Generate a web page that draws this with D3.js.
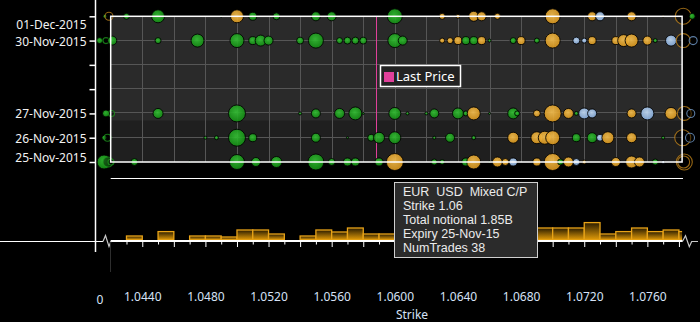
<!DOCTYPE html>
<html><head><meta charset="utf-8">
<script src="https://cdn.jsdelivr.net/npm/d3@7"></script>
<style>
html,body{margin:0;padding:0;background:#000;}
svg{display:block;font-family:"Noto Sans",sans-serif;}
</style></head><body>
<svg id="c" width="700" height="322"></svg>
<script>
// ---------- DATA ----------
const rowDates = ["2015-11-25","2015-11-26","2015-11-27","2015-11-28","2015-11-29","2015-11-30","2015-12-01"];
const labelDates = ["2015-11-25","2015-11-26","2015-11-27","2015-11-30","2015-12-01"];
const strikeTicks = [1.044,1.048,1.052,1.056,1.060,1.064,1.068,1.072,1.076];
const lastPrice = 1.0588;
const shadeFrom = "2015-11-26T17:00";

// bubbles: [strike, total notional (M), kind]  g=call, o=mixed C/P, b=put, r*=edge ring
const bub25 = [[1.04158,1250,"g"],[1.04183,640,"rg"],[1.04202,230,"rg"],[1.0435,310,"g"],[1.047,25,"g"],[1.050,1440,"g"],[1.0512,520,"g"],[1.0525,770,"g"],[1.055,1640,"g"],[1.056,310,"g"],[1.057,410,"g"],[1.0575,410,"g"],[1.059,410,"g"],[1.060,1850,"o"],[1.061,25,"g"],[1.0625,230,"g"],[1.063,160,"g"],[1.0645,410,"g"],[1.065,1250,"o"],[1.066,25,"g"],[1.0665,640,"o"],[1.067,310,"o"],[1.0675,410,"b"],[1.069,410,"o"],[1.070,1850,"o"],[1.0705,230,"g"],[1.071,640,"o"],[1.0715,310,"b"],[1.072,100,"o"],[1.074,520,"o"],[1.075,920,"o"],[1.0755,640,"o"],[1.0765,230,"g"],[1.077,60,"b"],[1.07834,1640,"ro"],[1.0783,920,"ro"]];
const bub26 = [[1.0416,160,"g"],[1.0418,310,"rg"],[1.048,60,"g"],[1.0487,100,"g"],[1.050,1850,"g"],[1.051,410,"g"],[1.055,520,"g"],[1.057,25,"g"],[1.0585,310,"g"],[1.059,770,"g"],[1.060,920,"g"],[1.0625,60,"g"],[1.0635,520,"g"],[1.065,100,"g"],[1.0675,770,"o"],[1.069,920,"o"],[1.0695,1080,"o"],[1.070,1250,"o"],[1.0715,410,"g"],[1.0725,640,"g"],[1.073,310,"b"],[1.0735,920,"o"],[1.075,640,"o"],[1.077,60,"g"],[1.07824,1640,"ro"],[1.0787,520,"rb"]];
const bub27 = [[1.0417,310,"g"],[1.04205,230,"rg"],[1.045,640,"g"],[1.050,1850,"g"],[1.054,60,"g"],[1.055,520,"g"],[1.0565,640,"g"],[1.0575,1080,"g"],[1.058,25,"g"],[1.060,920,"g"],[1.0608,60,"g"],[1.062,60,"g"],[1.0625,520,"g"],[1.064,770,"g"],[1.0645,160,"g"],[1.065,1080,"o"],[1.066,25,"g"],[1.0675,770,"g"],[1.06775,160,"g"],[1.069,310,"o"],[1.070,1850,"o"],[1.071,640,"o"],[1.0715,100,"g"],[1.072,770,"b"],[1.0725,520,"b"],[1.075,520,"o"],[1.076,1080,"b"],[1.0775,920,"o"],[1.07834,1250,"ro"],[1.07875,410,"rb"]];
const bub30 = [[1.0413,230,"g"],[1.0417,230,"rg"],[1.0421,520,"g"],[1.045,230,"g"],[1.0475,1080,"g"],[1.050,1250,"g"],[1.051,410,"g"],[1.0515,770,"g"],[1.052,520,"g"],[1.054,310,"g"],[1.055,1440,"g"],[1.0565,230,"g"],[1.057,310,"g"],[1.0575,310,"g"],[1.058,310,"g"],[1.060,1250,"g"],[1.0605,520,"g"],[1.063,160,"o"],[1.0635,230,"o"],[1.064,410,"o"],[1.0645,410,"g"],[1.065,410,"g"],[1.0655,410,"o"],[1.066,60,"g"],[1.0675,230,"g"],[1.068,410,"o"],[1.069,160,"g"],[1.070,1440,"o"],[1.0715,310,"b"],[1.072,160,"b"],[1.0725,410,"o"],[1.074,410,"o"],[1.0745,920,"o"],[1.075,1080,"o"],[1.076,520,"o"],[1.0765,100,"g"],[1.0775,770,"b"],[1.07827,1250,"ro"],[1.0789,410,"rb"]];
const bub01 = [[1.04164,100,"g"],[1.04189,410,"ro"],[1.043,230,"g"],[1.045,1080,"g"],[1.049,25,"g"],[1.050,1080,"o"],[1.051,410,"g"],[1.0525,310,"g"],[1.055,520,"g"],[1.056,520,"g"],[1.060,1440,"g"],[1.063,230,"o"],[1.064,100,"o"],[1.065,640,"o"],[1.0655,520,"o"],[1.0665,230,"o"],[1.070,1440,"o"],[1.0725,520,"o"],[1.073,520,"b"],[1.075,520,"o"],[1.077,25,"o"],[1.07827,1640,"ro"],[1.07884,230,"g"]];

// histogram: bin start strikes and counts
const binStarts = [1.043,1.044,1.045,1.046,1.047,1.048,1.049,1.050,1.051,1.052,1.053,1.054,1.055,1.056,1.057,1.058,1.059,1.060,1.061,1.062,1.063,1.064,1.065,1.066,1.067,1.068,1.069,1.070,1.071,1.072,1.073,1.074,1.075,1.076,1.077,1.078];
const binCounts = [2,0,4.2,0,2,2,1.5,5,5,3,0,2,5,4,6,3,3,8,4,3,4,5,6,4,5,6,6,6,6,8.7,3,4.2,6,4.2,5,4.2];

const tipLines = ["EUR\u00a0\u00a0USD\u00a0\u00a0Mixed C/P","Strike 1.06","Total notional 1.85B","Expiry 25-Nov-15","NumTrades 38"];

// ---------- CHART ----------
const svg = d3.select("#c");
const pd = d3.timeParse("%Y-%m-%d");
const x = d3.scaleLinear().domain([1.042, 1.0782]).range([110.7, 682.1]);
const y = d3.scaleTime().domain([pd("2015-11-25"), pd("2015-12-01")]).range([162, 16.3]);
const r = d3.scaleSqrt().domain([0, 1850]).range([0, 8.5]);
const hy = d3.scaleLinear().domain([0, 10]).range([240, 220]);

const defs = svg.append("defs");
const grads = {g:["#34c034","#138c13"], o:["#f6c050","#d9961c"], b:["#c4dcf6","#86acdc"]};
Object.entries(grads).forEach(([k,c])=>{
  const g = defs.append("radialGradient").attr("id","rg_"+k).attr("cx","45%").attr("cy","40%").attr("r","60%");
  g.append("stop").attr("offset","0%").attr("stop-color",c[0]);
  g.append("stop").attr("offset","100%").attr("stop-color",c[1]);
});
const hg = defs.append("linearGradient").attr("id","hbar").attr("x1",0).attr("y1",0).attr("x2",0).attr("y2",1);
hg.append("stop").attr("offset","0%").attr("stop-color","#2a1c00");
hg.append("stop").attr("offset","100%").attr("stop-color","#e39c08");
defs.append("clipPath").attr("id","hclip").append("rect")
  .attr("x", x.range()[0]).attr("y", 150).attr("width", x.range()[1]-x.range()[0]).attr("height", 100);

const X0 = x.range()[0], X1 = x.range()[1];
const Y0 = y.range()[1], Y1 = y.range()[0];

// plot background
svg.append("rect").attr("x",X0).attr("y",Y0).attr("width",X1-X0).attr("height",Y1-Y0).attr("fill","#2a2a2a");
const ys = y(d3.timeParse("%Y-%m-%dT%H:%M")(shadeFrom));
svg.append("rect").attr("x",X0).attr("y",ys).attr("width",X1-X0).attr("height",Y1-ys).attr("fill","#1f1f1f");

// grid
const grid = svg.append("g").attr("stroke","#565656").attr("stroke-width",1);
const vgrid = [1.044,1.046,1.048,1.050,1.052,1.054,1.056,1.058,1.060,1.062,1.064,1.066,1.068,1.070,1.072,1.074,1.076];
grid.selectAll("line.v").data(vgrid).join("line")
  .attr("x1",d=>Math.round(x(d))+0.5).attr("x2",d=>Math.round(x(d))+0.5).attr("y1",Y0).attr("y2",Y1);
grid.selectAll("line.h").data(rowDates.slice(1,6)).join("line")
  .attr("x1",X0).attr("x2",X1).attr("y1",d=>Math.round(y(pd(d)))-0.5).attr("y2",d=>Math.round(y(pd(d)))-0.5);

// last price line
svg.append("line").attr("x1",Math.round(x(lastPrice))+0.5).attr("x2",Math.round(x(lastPrice))+0.5)
  .attr("y1",Y0).attr("y2",Y1).attr("stroke","#e0409a").attr("stroke-width",1);

// bubbles
const rows = [["2015-11-25",bub25],["2015-11-26",bub26],["2015-11-27",bub27],["2015-11-30",bub30],["2015-12-01",bub01]];
const ringCol = {rg:"#1f9a1f", ro:"#c98a1c", rb:"#7aa6d8"};
const bg = svg.append("g");
rows.forEach(([d,arr])=>{
  const cy = y(pd(d));
  bg.selectAll(null).data(arr).join("circle")
    .attr("cx",v=>x(v[0])).attr("cy",cy).attr("r",v=>r(v[1]))
    .each(function(v){
      const s = d3.select(this);
      if (v[2][0]==="r") {
        s.attr("fill","#000").attr("fill-opacity",0.45).attr("stroke",ringCol[v[2]]).attr("stroke-opacity",0.75).attr("stroke-width",1.1);
      } else {
        s.attr("fill","url(#rg_"+v[2]+")").attr("fill-opacity",0.9).attr("stroke","#000").attr("stroke-opacity",0.85).attr("stroke-width",1);
      }
    });
});

// plot border
svg.append("rect").attr("x",X0).attr("y",Y0).attr("width",X1-X0).attr("height",Y1-Y0)
  .attr("fill","none").attr("stroke","#fff").attr("stroke-width",1.5);

// legend
const lg = svg.append("g");
lg.append("rect").attr("x",380.5).attr("y",65.5).attr("width",80).attr("height",21).attr("fill","#222").attr("stroke","#fff").attr("stroke-width",1.5);
lg.append("rect").attr("x",384).attr("y",72).attr("width",10).attr("height",10).attr("fill","#e0409a");
lg.append("text").attr("x",396).attr("y",81).attr("fill","#fff").attr("font-size",13).text("Last Price");

// y axis
const yAxis = d3.axisLeft(y).tickValues(rowDates.map(pd)).tickSize(6).tickPadding(3)
  .tickFormat(d=>labelDates.includes(d3.timeFormat("%Y-%m-%d")(d)) ? d3.timeFormat("%d-%b-%Y")(d) : "");
const ya = svg.append("g").attr("transform","translate(95.5,0)").call(yAxis);
ya.select(".domain").remove();
ya.selectAll(".tick line").attr("stroke","#fff").attr("stroke-width",1.5);
ya.selectAll(".tick text").attr("fill","#f2f2f2").attr("font-size",12).attr("font-family","Noto Sans")
  .attr("dy",(d,i)=> i===0 ? "-0.05em" : (i===rowDates.length-1 ? "1.0em" : "0.38em"));
svg.append("line").attr("x1",95.5).attr("x2",95.5).attr("y1",0).attr("y2",252).attr("stroke","#fff").attr("stroke-width",1.5);

// histogram
svg.append("line").attr("x1",X0).attr("x2",683).attr("y1",178.5).attr("y2",178.5).attr("stroke","#fff").attr("stroke-width",1);
const hgG = svg.append("g").attr("clip-path","url(#hclip)");
hgG.selectAll("rect").data(binStarts.map((b,i)=>[b,binCounts[i]]).filter(d=>d[1]>0)).join("rect")
  .attr("x",d=>x(d[0])).attr("width",d=>x(d[0]+0.001)-x(d[0]))
  .attr("y",d=>hy(d[1])).attr("height",d=>hy(0)-hy(d[1]))
  .attr("fill","url(#hbar)").attr("stroke","#e8a317").attr("stroke-width",1.3);
// baseline + break symbols
svg.append("line").attr("x1",X0).attr("x2",682.7).attr("y1",241).attr("y2",241).attr("stroke","#fff").attr("stroke-width",2);
svg.append("line").attr("x1",0).attr("x2",103).attr("y1",241.5).attr("y2",241.5).attr("stroke","#fff").attr("stroke-width",1);
svg.append("path").attr("d","M103,241.5L105.5,235.5L109,246.5L111,241").attr("fill","none").attr("stroke","#c8c8c8").attr("stroke-width",1.2);
svg.append("path").attr("d","M682.7,241L685.5,235.7L689.3,246.7L691.7,241.5L698,241.5").attr("fill","none").attr("stroke","#c8c8c8").attr("stroke-width",1.2);
svg.append("line").attr("x1",110.5).attr("x2",110.5).attr("y1",242).attr("y2",272).attr("stroke","#2e2e2e").attr("stroke-width",1);

// histogram ticks
const hticks = d3.range(1043,1079).map(k=>k/1000);
const ht = svg.append("g").attr("transform","translate(0,242)")
  .call(d3.axisBottom(x).tickValues(hticks).tickSize(5).tickFormat(""));
ht.select(".domain").remove();
ht.selectAll(".tick line").attr("stroke","#fff").attr("y2",d=>Math.round(d*1000)%2===0?5:2.5);

// x axis labels
const xa = svg.append("g").attr("transform","translate(0,289)")
  .call(d3.axisBottom(x).tickValues(strikeTicks).tickSize(0).tickFormat(d3.format(".4f")));
xa.select(".domain").remove();
xa.selectAll(".tick text").attr("fill","#d6e2f6").attr("font-size",12).attr("font-family","Noto Sans");
svg.append("text").attr("x",100).attr("y",304).attr("text-anchor","middle").attr("fill","#d6e2f6").attr("font-size",12).text("0");
svg.append("text").attr("x",412).attr("y",319).attr("text-anchor","middle").attr("fill","#d6e2f6").attr("font-size",12).text("Strike");

// tooltip
const tt = svg.append("g");
tt.append("rect").attr("x",394.5).attr("y",182.5).attr("width",143).attr("height",75).attr("fill","#2b2b2b").attr("stroke","#d0d0d0").attr("stroke-width",1);
tt.selectAll("text").data(tipLines).join("text")
  .attr("x",403).attr("y",(d,i)=>196+i*14).attr("fill","#ececec").attr("font-size",12.5)
  .attr("font-family","'Liberation Sans', Arial, sans-serif").text(d=>d);
</script>
</body></html>
